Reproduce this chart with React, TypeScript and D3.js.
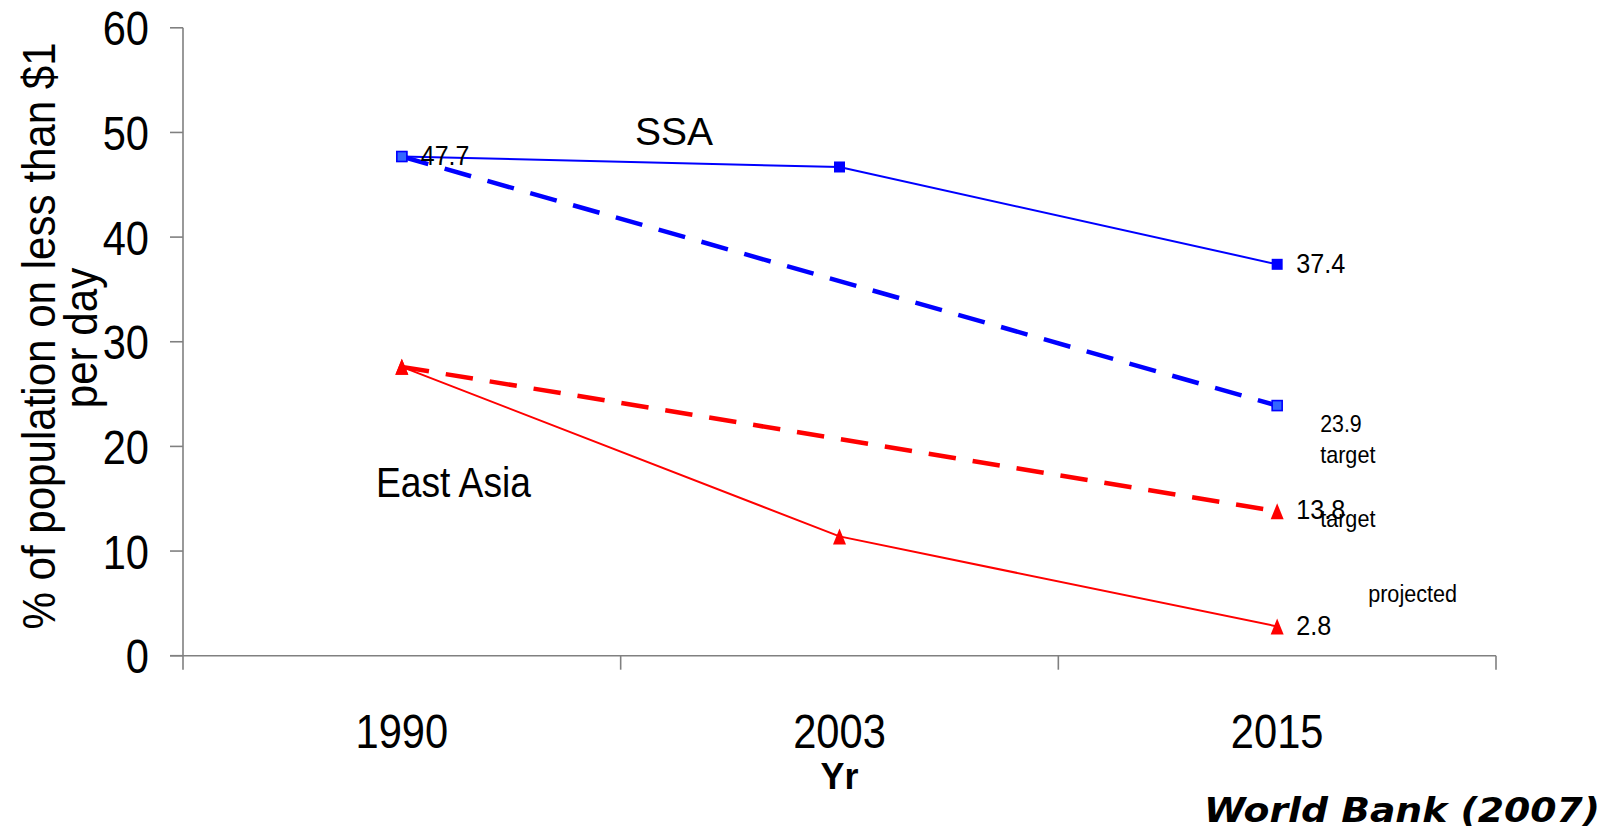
import React from "react";
import * as d3 from "d3";

// Share of population living on less than $1 a day
const years = ["1990", "2003", "2015"];
const ssaActual = [47.7, 46.7, 37.4];
const ssaTarget = [47.7, 35.8, 23.9];
const eastAsiaActual = [27.6, 11.4, 2.8];
const eastAsiaTarget = [27.6, 20.7, 13.8];
const yTicks = [0, 10, 20, 30, 40, 50, 60];

const W = 1614;
const H = 830;
const margin = { left: 183, right: 118, top: 27.8, bottom: 174.3 };

const BLUE = "#0000ff";
const RED = "#ff0000";
const AXIS = "#808080";
const FONT = "'Liberation Sans', Arial, Helvetica, sans-serif";

type LabelProps = {
  x: number;
  y: number;
  text: string;
  size: number;
  sx?: number;
  anchor?: "start" | "middle" | "end";
  weight?: string | number;
  italic?: boolean;
  family?: string;
  rotate?: number;
};

// Text with a horizontal squeeze applied in its own frame
function Label({ x, y, text, size, sx = 1, anchor = "start", weight = "normal", italic = false, family = FONT, rotate = 0 }: LabelProps) {
  return (
    <g transform={`translate(${x},${y}) rotate(${rotate}) scale(${sx},1)`}>
      <text
        x={0}
        y={0}
        fontSize={size}
        fontFamily={family}
        fontWeight={weight}
        fontStyle={italic ? "italic" : "normal"}
        textAnchor={anchor}
        fill="#000"
      >
        {text}
      </text>
    </g>
  );
}

export default function App() {
  const x = d3.scaleBand<string>().domain(years).range([margin.left, W - margin.right]).padding(0);
  const y = d3.scaleLinear().domain([0, 60]).range([H - margin.bottom, margin.top]);
  const cx = (yr: string) => (x(yr) as number) + x.bandwidth() / 2;

  const line = d3
    .line<number>()
    .x((_, i) => cx(years[i]))
    .y((v) => y(v));

  const tri = (px: number, py: number) => `M${px - 6.5},${py + 8}L${px},${py - 8}L${px + 6.5},${py + 8}Z`;

  const x0 = margin.left;
  const y0 = y(0);
  const last = years.length - 1;
  const xl = cx(years[last]);
  const fmt = d3.format(".1f");

  const bandEdges = [...years.map((yr) => x(yr) as number), W - margin.right];

  return (
    <svg
      width={W}
      height={H}
      style={{ position: "absolute", left: 0, top: 0, background: "#fff" }}
    >
      <rect x={0} y={0} width={W} height={H} fill="#fff" />

      {/* y axis */}
      <line x1={x0} x2={x0} y1={y(60)} y2={y0} stroke={AXIS} strokeWidth={1.6} />
      {yTicks.map((t) => (
        <g key={`yt${t}`}>
          <line x1={x0 - 13} x2={x0} y1={y(t)} y2={y(t)} stroke={AXIS} strokeWidth={1.6} />
          <Label x={149} y={y(t) + 17.5} text={String(t)} size={49} sx={0.85} anchor="end" />
        </g>
      ))}

      {/* x axis */}
      <line x1={x0 - 13} x2={W - margin.right} y1={y0} y2={y0} stroke={AXIS} strokeWidth={1.6} />
      {bandEdges.map((e, i) => (
        <line key={`xt${i}`} x1={e} x2={e} y1={y0} y2={y0 + 14} stroke={AXIS} strokeWidth={1.6} />
      ))}
      {years.map((yr) => (
        <Label key={`xl${yr}`} x={cx(yr)} y={748} text={yr} size={49} sx={0.85} anchor="middle" />
      ))}
      <Label x={cx(years[1])} y={789} text="Yr" size={37} sx={0.97} anchor="middle" weight="bold" />

      {/* y axis title */}
      <Label x={55} y={336} text="% of population on less than $1" size={46} sx={0.915} anchor="middle" rotate={-90} />
      <Label x={97} y={338} text="per day" size={46} sx={0.915} anchor="middle" rotate={-90} />

      {/* series lines */}
      <path d={line(ssaActual) ?? ""} fill="none" stroke={BLUE} strokeWidth={2} />
      <path d={line(ssaTarget) ?? ""} fill="none" stroke={BLUE} strokeWidth={4.5} strokeDasharray="27.5 17" />
      <path d={line(eastAsiaActual) ?? ""} fill="none" stroke={RED} strokeWidth={2} />
      <path d={line(eastAsiaTarget) ?? ""} fill="none" stroke={RED} strokeWidth={4.5} strokeDasharray="27.5 17" />

      {/* markers */}
      {ssaActual.map((v, i) => (
        <rect key={`sa${i}`} x={cx(years[i]) - 5.5} y={y(v) - 5.5} width={11} height={11} fill={BLUE} />
      ))}
      {ssaTarget.map((v, i) =>
        i === 1 ? null : (
          <rect
            key={`st${i}`}
            x={cx(years[i]) - 5}
            y={y(v) - 5}
            width={10}
            height={10}
            fill="#3366ff"
            stroke={BLUE}
            strokeWidth={1.6}
          />
        )
      )}
      {eastAsiaActual.map((v, i) => (
        <path key={`ea${i}`} d={tri(cx(years[i]), y(v))} fill={RED} />
      ))}
      {eastAsiaTarget.map((v, i) =>
        i === 1 ? null : <path key={`et${i}`} d={tri(cx(years[i]), y(v))} fill={RED} />
      )}

      {/* value labels */}
      <Label x={cx(years[0]) + 19} y={y(ssaActual[0]) + 8.5} text={fmt(ssaActual[0])} size={28} sx={0.89} />
      <Label x={xl + 19} y={y(ssaActual[last]) + 8.7} text={fmt(ssaActual[last])} size={28} sx={0.9} />
      <Label x={xl + 43} y={y(ssaTarget[last]) + 26.7} text={fmt(ssaTarget[last])} size={24} sx={0.89} />
      <Label x={xl + 43} y={y(ssaTarget[last]) + 57} text="target" size={24} sx={0.9} />
      <Label x={xl + 19} y={y(eastAsiaTarget[last]) + 7.7} text={fmt(eastAsiaTarget[last])} size={28} sx={0.9} />
      <Label x={xl + 43} y={y(eastAsiaTarget[last]) + 16} text="target" size={24} sx={0.9} />
      <Label x={xl + 91} y={y(eastAsiaActual[last]) - 24} text="projected" size={24} sx={0.9} />
      <Label x={xl + 19} y={y(eastAsiaActual[last]) + 8.6} text={fmt(eastAsiaActual[last])} size={28} sx={0.9} />

      {/* series names */}
      <Label x={635} y={145} text="SSA" size={39} sx={1} />
      <Label x={376} y={497} text="East Asia" size={42} sx={0.885} />

      {/* source */}
      <Label
        x={1204}
        y={822}
        text="World Bank (2007)"
        size={34}
        sx={1.11}
        weight="bold"
        italic
        family="'DejaVu Sans', Verdana, sans-serif"
      />
    </svg>
  );
}
